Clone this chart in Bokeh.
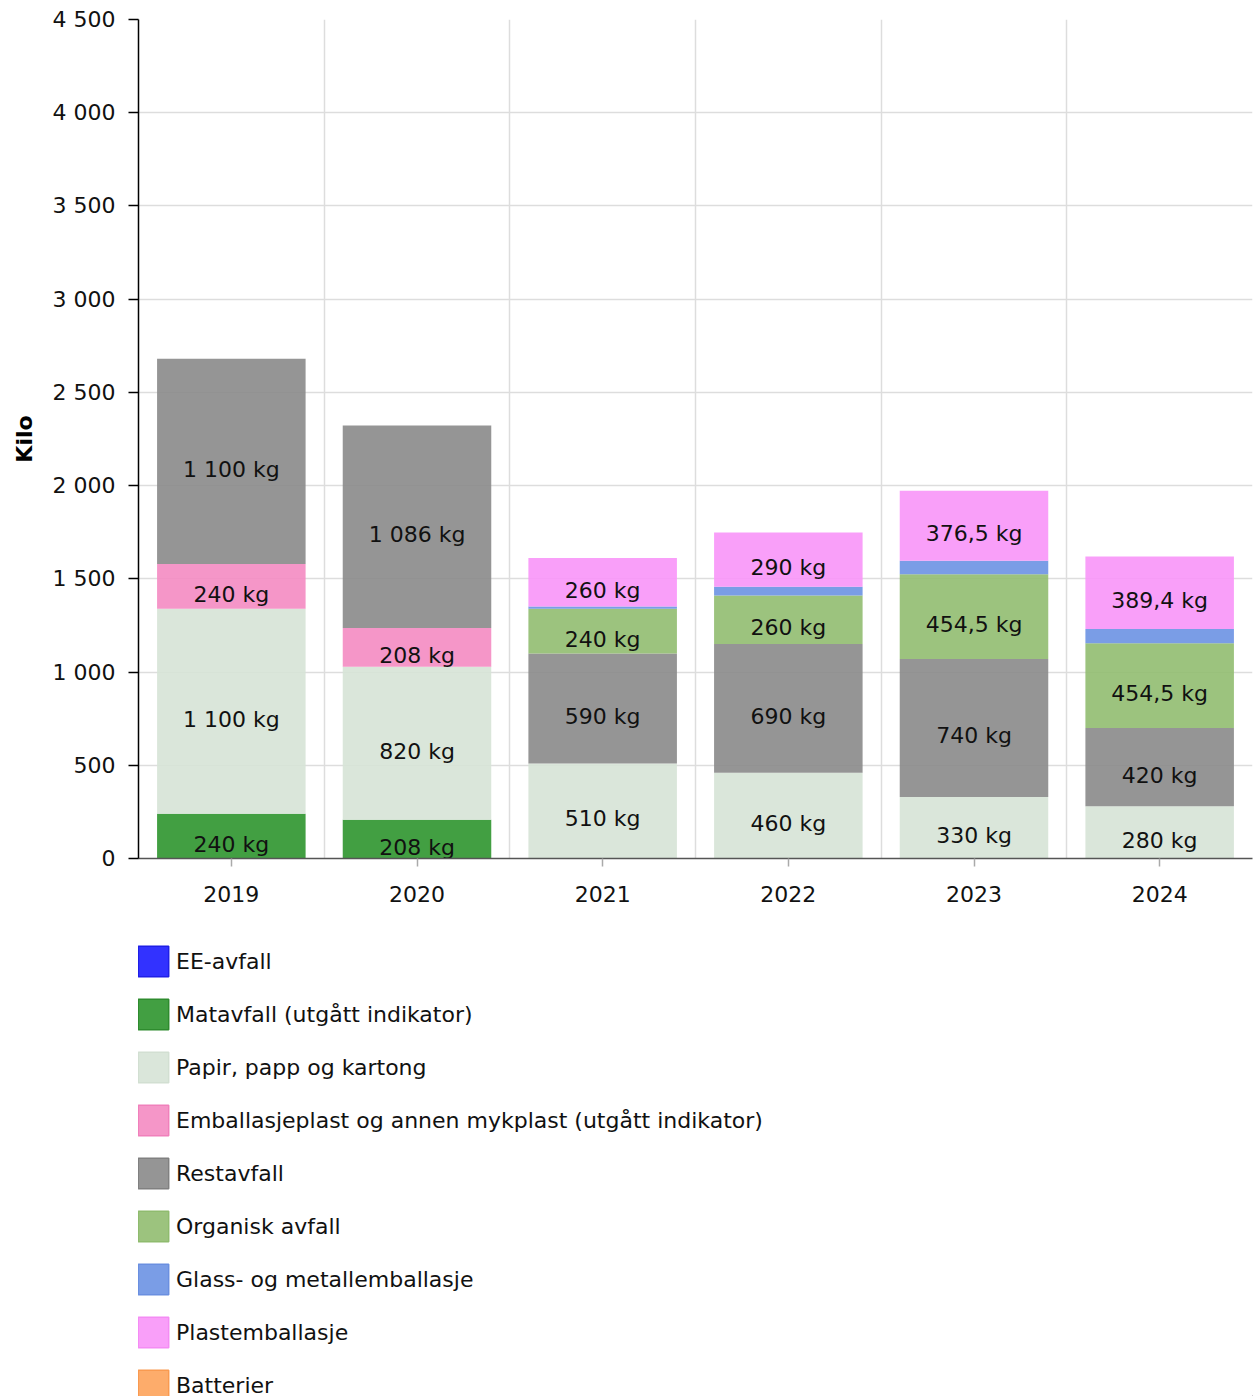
from bokeh.plotting import figure
from bokeh.layouts import column
from bokeh.models import ColumnDataSource, FixedTicker, Legend, LegendItem
from bokeh.embed import file_html
from bokeh.resources import INLINE
from bokeh.core.properties import value

years = ["2019", "2020", "2021", "2022", "2023", "2024"]
series = [
    "EE-avfall",
    "Matavfall (utgått indikator)",
    "Papir, papp og kartong",
    "Emballasjeplast og annen mykplast (utgått indikator)",
    "Restavfall",
    "Organisk avfall",
    "Glass- og metallemballasje",
    "Plastemballasje",
    "Batterier",
]
ee_avfall = [0, 0, 0, 0, 0, 0]
matavfall = [240, 208, 0, 0, 0, 0]
papir = [1100, 820, 510, 460, 330, 280]
emballasjeplast = [240, 208, 0, 0, 0, 0]
restavfall = [1100, 1086, 590, 690, 740, 420]
organisk = [0, 0, 240, 260, 454.5, 454.5]
glass_metall = [0, 0, 12, 48, 72, 76]
plastemballasje = [0, 0, 260, 290, 376.5, 389.4]
batterier = [0, 0, 0, 0, 0, 0]
y_ticks = [0, 500, 1000, 1500, 2000, 2500, 3000, 3500, 4000, 4500]

# colours as seen on white
seen = ["#3333ff", "#43a043", "#dae6da", "#f597c8", "#969696",
        "#9cc47e", "#7b9de6", "#f9a0f9", "#fdac6b"]
borders = ["#1f1fe6", "#2e8b2e", "#d2dfd2", "#f080bb", "#808080",
           "#8fbb6e", "#6a8fe0", "#f48cf4", "#f99a50"]
ALPHA = 0.9


def unblend(hx, a):
    hx = hx.lstrip("#")
    out = []
    for i in (0, 2, 4):
        c = int(hx[i:i + 2], 16)
        b = (c - 255 * (1 - a)) / a
        out.append(max(0, min(255, int(round(b)))))
    return "#%02x%02x%02x" % tuple(out)


fills = [unblend(c, ALPHA) for c in seen]

FONT = "DejaVu Sans"
FS = "22px"


def fmt(v):
    if float(v) == int(v):
        s = f"{int(v):,}".replace(",", " ")
    else:
        s = f"{v:,.1f}".replace(",", " ").replace(".", ",")
    return s


values = [ee_avfall, matavfall, papir, emballasjeplast, restavfall,
          organisk, glass_metall, plastemballasje, batterier]
keys = [f"s{i}" for i in range(len(series))]
xs = [i + 0.5 for i in range(len(years))]
data = {"x": xs}
for k, v in zip(keys, values):
    data[k] = v
src = ColumnDataSource(data)

# label positions
lx, ly, lt = [], [], []
for j in range(len(years)):
    base = 0.0
    for v in values:
        val = v[j]
        if val >= 100:
            lx.append(xs[j])
            ly.append(base + val / 2.0)
            lt.append(fmt(val) + " kg")
        base += val
lab_src = ColumnDataSource(dict(x=lx, y=ly, text=lt))

p = figure(width=1255, height=920, x_range=(0, 6), y_range=(0, 4500),
           output_backend="svg", toolbar_location=None, tools="",
           min_border_left=138, min_border_top=19, min_border_right=3,
           min_border_bottom=62)
p.outline_line_color = None

p.vbar_stack(keys, x="x", width=0.8, source=src,
             fill_color=fills, fill_alpha=ALPHA, line_color=None)

p.text(x="x", y="y", text="text", source=lab_src, text_align="center",
       text_baseline="middle", y_offset=8, text_font=value(FONT),
       text_font_size=FS, text_color="#111111")

# axes
p.yaxis.ticker = FixedTicker(ticks=y_ticks)
p.yaxis.major_label_overrides = {t: fmt(t) for t in y_ticks}
p.yaxis.minor_tick_line_color = None
p.yaxis.major_tick_out = 10
p.yaxis.major_tick_in = 0
p.yaxis.major_tick_line_color = "black"
p.yaxis.major_tick_line_width = 1.5
p.yaxis.axis_line_color = "black"
p.yaxis.axis_line_width = 1.5
p.yaxis.major_label_text_font = FONT
p.yaxis.major_label_text_font_size = FS
p.yaxis.major_label_text_color = "#111111"
p.yaxis.major_label_standoff = 13
p.yaxis.axis_label = "Kilo"
p.yaxis.axis_label_text_font = FONT
p.yaxis.axis_label_text_font_size = "22px"
p.yaxis.axis_label_text_font_style = "bold"
p.yaxis.axis_label_text_color = "black"
p.yaxis.axis_label_standoff = 13

p.xaxis.ticker = FixedTicker(ticks=xs)
p.xaxis.major_label_overrides = {x: y for x, y in zip(xs, years)}
p.xaxis.minor_tick_line_color = None
p.xaxis.major_tick_out = 8
p.xaxis.major_tick_in = 0
p.xaxis.major_tick_line_color = "#aaaaaa"
p.xaxis.major_tick_line_width = 1.5
p.xaxis.axis_line_color = "#555555"
p.xaxis.axis_line_width = 1.5
p.xaxis.major_label_text_font = FONT
p.xaxis.major_label_text_font_size = FS
p.xaxis.major_label_text_color = "#111111"
p.xaxis.major_label_standoff = 19

p.ygrid.ticker = FixedTicker(ticks=y_ticks)
p.ygrid.grid_line_color = "#dddddd"
p.ygrid.grid_line_width = 1.5
p.xgrid.ticker = FixedTicker(ticks=[1, 2, 3, 4, 5, 6])
p.xgrid.grid_line_color = "#dddddd"
p.xgrid.grid_line_width = 1.5

# legend figure (below the chart)
LEG_H = 476
p2 = figure(width=1255, height=LEG_H, x_range=(0, 1), y_range=(0, 1),
            output_backend="svg", toolbar_location=None, tools="",
            x_axis_type=None, y_axis_type=None,
            min_border_left=0, min_border_right=0, min_border_top=0,
            min_border_bottom=0)
p2.outline_line_color = None
p2.grid.visible = False
# legend-only renderers, drawn outside the visible range
legend_src = ColumnDataSource({**{k: [0] for k in keys}, "x": [5.0]})
rs2 = p2.vbar_stack(keys, x="x", width=0.1, source=legend_src,
                    fill_color=fills, fill_alpha=ALPHA,
                    line_color=borders, line_width=1.5)

GW = 38            # glyph area; drawn square is 80% of it (~30 px)
SP = 15
items = [LegendItem(label=s, renderers=[r]) for s, r in zip(series, rs2)]
legend_height = 9 * GW + 8 * SP
legend = Legend(items=items,
                location=(-4, LEG_H - 22 - legend_height),
                orientation="vertical", glyph_width=GW, glyph_height=GW,
                label_height=30, spacing=SP, padding=0, margin=0,
                label_standoff=4, label_text_font=FONT,
                label_text_font_size=FS, label_text_color="#111111",
                border_line_alpha=0, background_fill_alpha=0)
p2.add_layout(legend, "center")

open("out.html", "w").write(file_html(column(p, p2, spacing=0), INLINE))
